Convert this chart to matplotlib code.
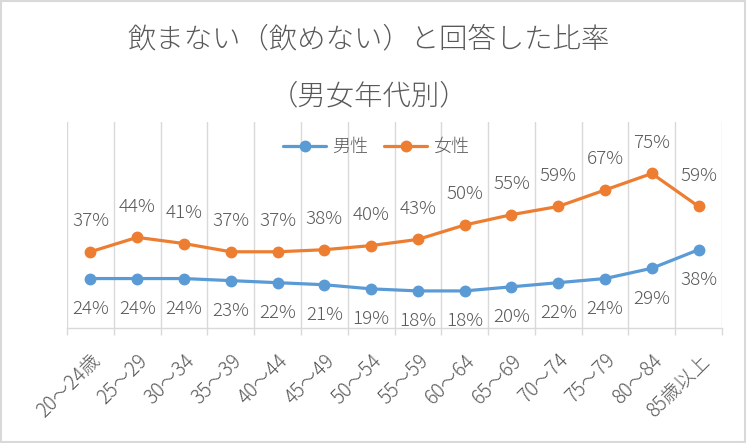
import matplotlib
matplotlib.use("Agg")
import matplotlib.pyplot as plt
from matplotlib.patches import Rectangle
import numpy as np

plt.rcParams['font.family'] = ['Noto Sans CJK JP', 'DejaVu Sans']
plt.rcParams['font.weight'] = 'light'

# データ
categories = ['20～24歳', '25～29', '30～34', '35～39', '40～44', '45～49', '50～54',
              '55～59', '60～64', '65～69', '70～74', '75～79', '80～84', '85歳以上']
male = [24, 24, 24, 23, 22, 21, 19, 18, 18, 20, 22, 24, 29, 38]
female = [37, 44, 41, 37, 37, 38, 40, 43, 50, 55, 59, 67, 75, 59]

blue = '#5B9BD5'
orange = '#ED7D31'
grey_txt = '#595959'
grid_c = '#D9D9D9'

W, H = 747, 443
fig = plt.figure(figsize=(W / 100, H / 100), dpi=100)
ax = fig.add_axes([67 / W, 1 - 328 / H, 655 / W, 206 / H])

x = np.arange(len(categories))
l1, = ax.plot(x, male, color=blue, lw=2.3, marker='o', ms=7.5, label='男性',
              solid_capstyle='round')
l2, = ax.plot(x, female, color=orange, lw=2.3, marker='o', ms=7.5, label='女性',
              solid_capstyle='round')

# データラベル
for xi, v in zip(x, male):
    ax.annotate(f'{v}%', (xi, v), xytext=(0, -22), textcoords='offset points',
                ha='center', va='center', fontsize=13.5, color=grey_txt)
for xi, v in zip(x, female):
    ax.annotate(f'{v}%', (xi, v), xytext=(0, 22), textcoords='offset points',
                ha='center', va='center', fontsize=13.5, color=grey_txt)

ax.set_xlim(-0.5, len(categories) - 0.5)
ax.set_ylim(0, 100)

# 軸・目盛
ax.set_xticks(x)
ax.set_xticklabels(categories, rotation=45, ha='right', va='top',
                   rotation_mode='anchor', fontsize=14, color=grey_txt)
ax.tick_params(axis='x', which='major', length=0, pad=16)
ax.set_xticks(np.arange(-0.5, len(categories)), minor=True)
ax.tick_params(axis='x', which='minor', length=5, width=1, color=grid_c)
ax.grid(axis='x', which='minor', color=grid_c, lw=1)
ax.set_yticks([])
for s in ['top', 'right', 'left']:
    ax.spines[s].set_visible(False)
ax.spines['bottom'].set_color(grid_c)
ax.spines['bottom'].set_linewidth(1)

# 凡例
fig.legend(handles=[l1, l2], loc='center', bbox_to_anchor=(376 / W, 1 - 147 / H),
           ncol=2, frameon=False, fontsize=13, handlelength=2.4,
           handletextpad=0.3, columnspacing=0.9, labelcolor=grey_txt)

# タイトル
fig.text(369 / W, 1 - 39 / H, '飲まない（飲めない）と回答した比率', ha='center', va='center',
         fontsize=20.4, color=grey_txt)
fig.text(369 / W, 1 - 96 / H, '（男女年代別）', ha='center', va='center',
         fontsize=20.4, color=grey_txt)

# 枠線
fig.patches.append(Rectangle((0.002, 0.003), 0.995, 0.994, transform=fig.transFigure,
                             fill=False, edgecolor=grid_c, lw=1.5))

fig.savefig('out.png', dpi=100)
